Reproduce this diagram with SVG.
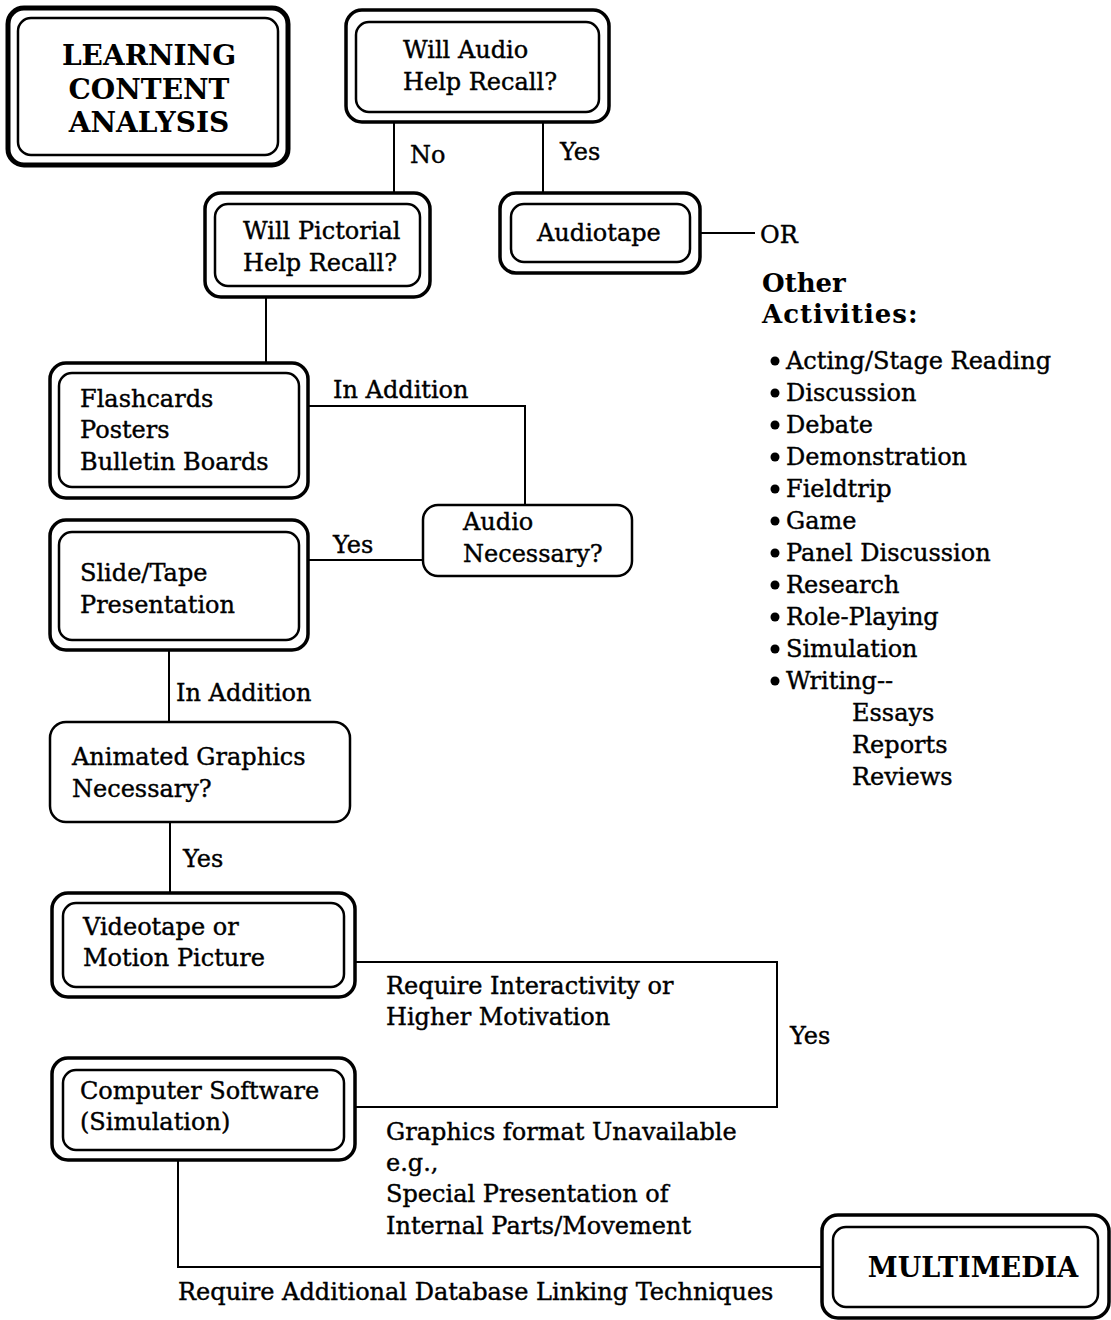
<svg xmlns="http://www.w3.org/2000/svg" width="1111" height="1320" viewBox="0 0 1111 1320">
<style>
.t{font-family:"DejaVu Serif","Liberation Serif",serif;font-size:24px;fill:#000;stroke:#000;stroke-width:0.4}
.b{font-family:"DejaVu Serif","Liberation Serif",serif;font-weight:bold;fill:#000}
.o{fill:#fff;stroke:#000;stroke-width:3.5}
.i{fill:none;stroke:#000;stroke-width:2.5}
.s{fill:#fff;stroke:#000;stroke-width:2.5}
.c{fill:none;stroke:#000;stroke-width:2}
</style>
<rect width="1111" height="1320" fill="#fff"/>
<g id="connectors">
<path class="c" d="M394,122 V193"/>
<path class="c" d="M543,122 V193"/>
<path class="c" d="M700,233 H755"/>
<path class="c" d="M266,297 V363"/>
<path class="c" d="M308,406 H525 V505"/>
<path class="c" d="M423,560 H308"/>
<path class="c" d="M169,650 V722"/>
<path class="c" d="M170,822 V893"/>
<path class="c" d="M355,962 H777 V1107 H355"/>
<path class="c" d="M178,1160 V1267 H822"/>
<text class="t" x="410" y="163">No</text>
<text class="t" x="560" y="160">Yes</text>
<text class="t" x="760" y="243">OR</text>
<text class="t" x="333" y="398">In Addition</text>
<text class="t" x="333" y="553">Yes</text>
<text class="t" x="176" y="701">In Addition</text>
<text class="t" x="183" y="867">Yes</text>
<text class="t" x="790" y="1044">Yes</text>
<text class="t" x="386" y="994">Require Interactivity or</text>
<text class="t" x="386" y="1025">Higher Motivation</text>
<text class="t" x="386" y="1140">Graphics format Unavailable</text>
<text class="t" x="386" y="1171">e.g.,</text>
<text class="t" x="386" y="1202">Special Presentation of</text>
<text class="t" x="386" y="1234">Internal Parts/Movement</text>
<text class="t" x="178" y="1300">Require Additional Database Linking Techniques</text>
</g>
<g id="learning">
<rect x="8" y="8" width="280" height="157" rx="16" fill="#fff" stroke="#000" stroke-width="5"/>
<rect x="18" y="18" width="260" height="137" rx="13" class="i"/>
<text class="b" font-size="28" text-anchor="middle" x="149" y="65">LEARNING</text>
<text class="b" font-size="28" text-anchor="middle" x="149" y="99">CONTENT</text>
<text class="b" font-size="28" text-anchor="middle" x="149" y="132">ANALYSIS</text>
</g>
<g id="audio-recall">
<rect x="346" y="10" width="263" height="112" rx="16" class="o"/>
<rect x="356" y="22" width="243" height="90" rx="13" class="i"/>
<text class="t" x="403" y="58">Will Audio</text>
<text class="t" x="403" y="90">Help Recall?</text>
</g>
<g id="pictorial-recall">
<rect x="205" y="193" width="225" height="104" rx="16" class="o"/>
<rect x="215" y="204" width="205" height="82" rx="13" class="i"/>
<text class="t" x="243" y="239">Will Pictorial</text>
<text class="t" x="243" y="271">Help Recall?</text>
</g>
<g id="audiotape">
<rect x="500" y="193" width="200" height="80" rx="16" class="o"/>
<rect x="511" y="204" width="179" height="58" rx="13" class="i"/>
<text class="t" x="537" y="241">Audiotape</text>
</g>
<g id="other-activities">
<text class="b" font-size="26" x="762" y="292">Other</text>
<text class="b" font-size="26" x="762" y="323" letter-spacing="1">Activities:</text>
<g fill="#000">
<circle cx="775" cy="361" r="4.5"/><circle cx="775" cy="393" r="4.5"/><circle cx="775" cy="425" r="4.5"/><circle cx="775" cy="457" r="4.5"/><circle cx="775" cy="489" r="4.5"/><circle cx="775" cy="521" r="4.5"/><circle cx="775" cy="553" r="4.5"/><circle cx="775" cy="585" r="4.5"/><circle cx="775" cy="617" r="4.5"/><circle cx="775" cy="649" r="4.5"/><circle cx="775" cy="681" r="4.5"/>
</g>
<text class="t" x="786" y="369">Acting/Stage Reading</text>
<text class="t" x="786" y="401">Discussion</text>
<text class="t" x="786" y="433">Debate</text>
<text class="t" x="786" y="465">Demonstration</text>
<text class="t" x="786" y="497">Fieldtrip</text>
<text class="t" x="786" y="529">Game</text>
<text class="t" x="786" y="561">Panel Discussion</text>
<text class="t" x="786" y="593">Research</text>
<text class="t" x="786" y="625">Role-Playing</text>
<text class="t" x="786" y="657">Simulation</text>
<text class="t" x="786" y="689">Writing--</text>
<text class="t" x="852" y="721">Essays</text>
<text class="t" x="852" y="753">Reports</text>
<text class="t" x="852" y="785">Reviews</text>
</g>
<g id="flashcards">
<rect x="50" y="363" width="258" height="135" rx="16" class="o"/>
<rect x="59" y="373" width="240" height="114" rx="13" class="i"/>
<text class="t" x="80" y="407">Flashcards</text>
<text class="t" x="80" y="438">Posters</text>
<text class="t" x="80" y="470">Bulletin Boards</text>
</g>
<g id="audio-necessary">
<rect x="423" y="505" width="209" height="71" rx="15" class="s"/>
<text class="t" x="463" y="530">Audio</text>
<text class="t" x="463" y="562">Necessary?</text>
</g>
<g id="slide-tape">
<rect x="50" y="520" width="258" height="130" rx="16" class="o"/>
<rect x="59" y="532" width="240" height="108" rx="13" class="i"/>
<text class="t" x="80" y="581">Slide/Tape</text>
<text class="t" x="80" y="613">Presentation</text>
</g>
<g id="animated">
<rect x="50" y="722" width="300" height="100" rx="16" class="s"/>
<text class="t" x="72" y="765">Animated Graphics</text>
<text class="t" x="72" y="797">Necessary?</text>
</g>
<g id="videotape">
<rect x="52" y="893" width="303" height="104" rx="16" class="o"/>
<rect x="63" y="903" width="281" height="84" rx="13" class="i"/>
<text class="t" x="83" y="935">Videotape or</text>
<text class="t" x="83" y="966">Motion Picture</text>
</g>
<g id="computer-software">
<rect x="52" y="1058" width="303" height="102" rx="16" class="o"/>
<rect x="63" y="1070" width="281" height="80" rx="13" class="i"/>
<text class="t" x="80" y="1099">Computer Software</text>
<text class="t" x="80" y="1130">(Simulation)</text>
</g>
<g id="multimedia">
<rect x="822" y="1215" width="287" height="103" rx="16" class="o"/>
<rect x="833" y="1227" width="265" height="80" rx="13" class="i"/>
<text class="b" font-size="27" text-anchor="middle" x="973" y="1277">MULTIMEDIA</text>
</g>
</svg>
